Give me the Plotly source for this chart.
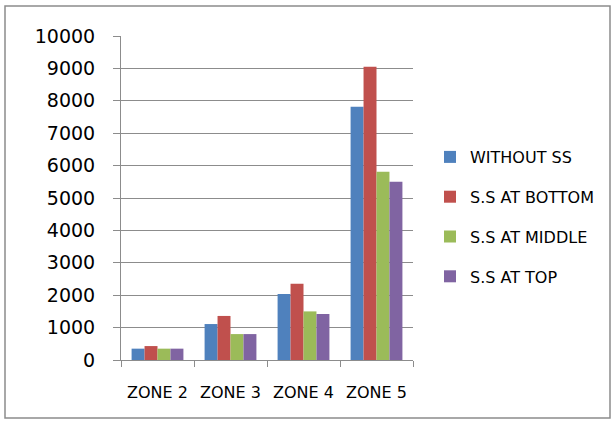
import plotly.graph_objects as go

zones = ["ZONE 2", "ZONE 3", "ZONE 4", "ZONE 5"]
without_ss = [350, 1110, 2040, 7820]
ss_bottom = [430, 1360, 2350, 9050]
ss_middle = [350, 800, 1500, 5810]
ss_top = [350, 800, 1420, 5500]

series = [
    ("WITHOUT SS", without_ss, "#4F81BD"),
    ("S.S AT BOTTOM", ss_bottom, "#C0504D"),
    ("S.S AT MIDDLE", ss_middle, "#9BBB59"),
    ("S.S AT TOP", ss_top, "#8064A2"),
]

W, H = 613, 422
ML, MR, MT, MB = 121, 200, 36, 62
pw = W - ML - MR
ph = H - MT - MB

fig = go.Figure()
for i, (name, vals, color) in enumerate(series):
    fig.add_trace(go.Bar(
        x=zones, y=vals, name=name, marker_color=color,
        marker_line_width=0, legendgroup=f"g{i}",
    ))

# outer chart frame
fig.add_shape(
    type="rect", xref="paper", yref="paper",
    x0=(5 - ML) / pw, x1=(610 - ML) / pw,
    y0=(H - MB - 418) / ph, y1=(H - MB - 6) / ph,
    line=dict(color="#8c8c8c", width=1.5), layer="below",
)

fig.update_layout(
    width=W, height=H,
    margin=dict(l=ML, r=MR, t=MT, b=MB, autoexpand=False),
    paper_bgcolor="white", plot_bgcolor="white",
    barmode="group", bargap=0.29, bargroupgap=0,
    font=dict(family="DejaVu Sans", color="#000000"),
    showlegend=True,
    legend=dict(
        x=(430 - ML) / pw, y=(360 - 217) / ph, xanchor="left", yanchor="middle",
        font=dict(size=16, family="DejaVu Sans", color="#000000"),
        traceorder="grouped", tracegroupgap=16,
        itemwidth=30,
    ),
    xaxis=dict(
        showline=True, linecolor="#8c8c8c", linewidth=1,
        ticks="outside", tickson="boundaries", ticklen=6, tickcolor="#8c8c8c",
        tickfont=dict(size=16), showgrid=False, ticklabelstandoff=18,
        automargin=False,
    ),
    yaxis=dict(
        range=[0, 10000], dtick=1000, tickformat="d",
        showline=True, linecolor="#8c8c8c", linewidth=1,
        ticks="outside", ticklen=7, tickcolor="#8c8c8c",
        showgrid=True, gridcolor="#8c8c8c", gridwidth=1,
        tickfont=dict(size=19), zeroline=False, ticklabelstandoff=14,
        automargin=False,
    ),
)

fig.write_html("out.html")
